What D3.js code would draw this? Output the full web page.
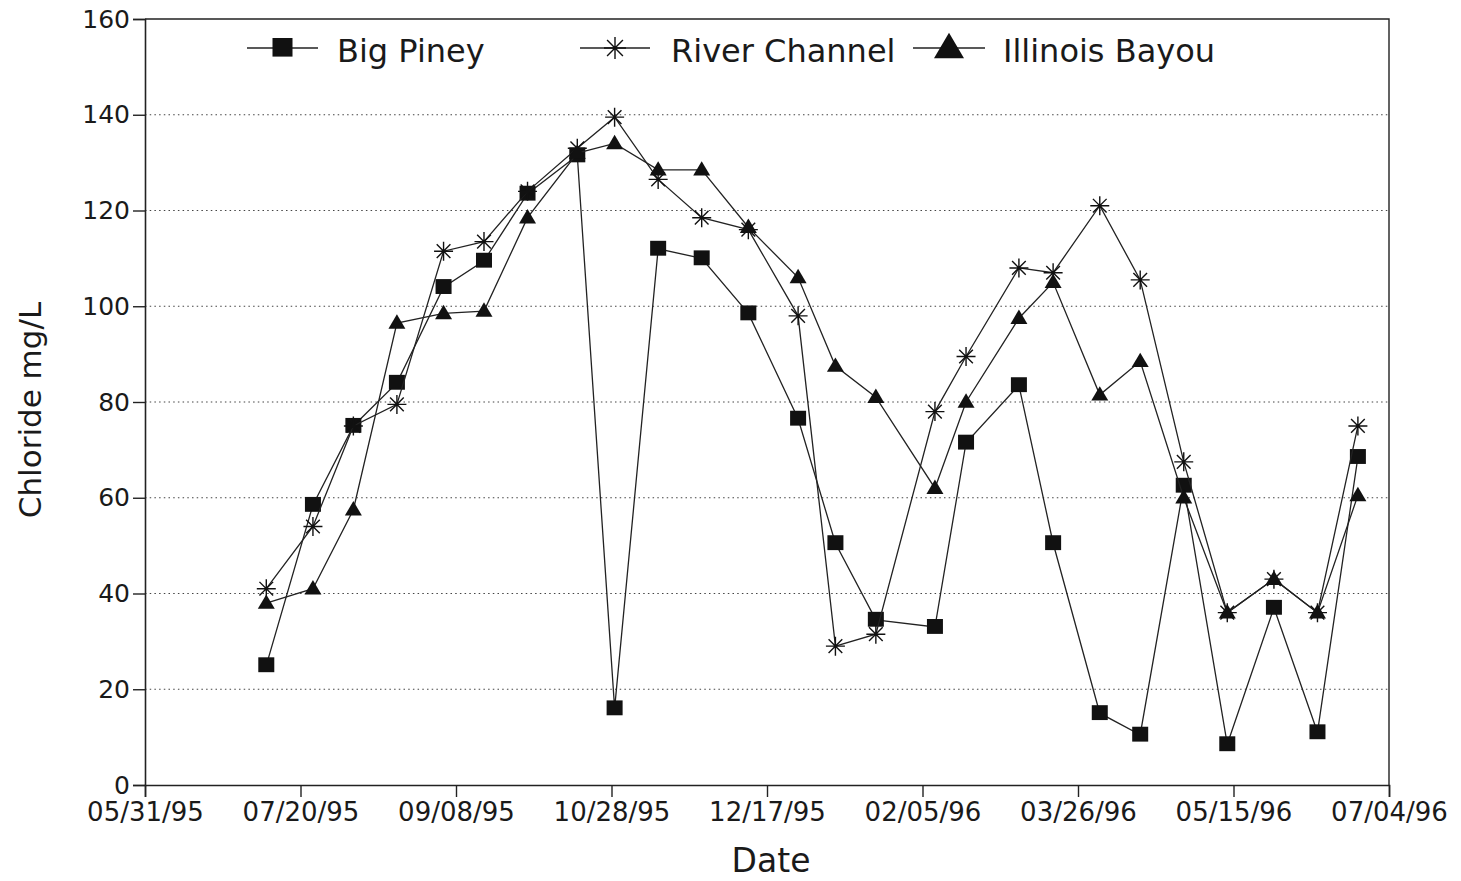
<!DOCTYPE html>
<html>
<head>
<meta charset="utf-8">
<script src="https://cdn.jsdelivr.net/npm/d3@7"></script>
<style>
  html, body { margin: 0; padding: 0; background: #fff; }
  svg { display: block; }
  text { font-family: "DejaVu Sans", sans-serif; fill: #1a1a1a; }
</style>
</head>
<body>
<svg id="chart" width="1461" height="881"></svg>
<script>
// Sampling dates (shared by all three sites)
const dates = [
  "1995-07-09","1995-07-24","1995-08-06","1995-08-20","1995-09-04","1995-09-17",
  "1995-10-01","1995-10-17","1995-10-29","1995-11-12","1995-11-26","1995-12-11",
  "1995-12-27","1996-01-08","1996-01-21","1996-02-09","1996-02-19","1996-03-07",
  "1996-03-18","1996-04-02","1996-04-15","1996-04-29","1996-05-13","1996-05-28",
  "1996-06-11","1996-06-24"
];

// Chloride, mg/L
const bigPiney = [
  25, 58.5, 75, 84, 104, 109.5, 123.5, 131.5, 16, 112, 110, 98.5,
  76.5, 50.5, 34.5, 33, 71.5, 83.5, 50.5, 15, 10.5, 62.5, 8.5, 37, 11, 68.5
];
const riverChannel = [
  41, 54, 75, 79.5, 111.5, 113.5, 124, 133, 139.5, 126.5, 118.5, 116,
  98, 29, 31.5, 78, 89.5, 108, 107, 121, 105.5, 67.5, 36, 43, 36, 75
];
const illinoisBayou = [
  38, 41, 57.5, 96.5, 98.5, 99, 118.5, 132, 134, 128.5, 128.5, 116.5,
  106, 87.5, 81, 62, 80, 97.5, 105, 81.5, 88.5, 60, 36, 43, 36, 60.5
];

const seriesNames = ["Big Piney", "River Channel", "Illinois Bayou"];
const xTickDates = ["1995-05-31","1995-07-20","1995-09-08","1995-10-28","1995-12-17",
                    "1996-02-05","1996-03-26","1996-05-15","1996-07-04"];
const yTicks = [0, 20, 40, 60, 80, 100, 120, 140, 160];

const parse = d3.utcParse("%Y-%m-%d");
const fmt = d3.utcFormat("%m/%d/%y");

const svg = d3.select("#chart");
const plotLeft = 145, plotRight = 1389, plotTop = 19, plotBottom = 785;

const x = d3.scaleUtc()
  .domain([parse(xTickDates[0]), parse(xTickDates[xTickDates.length - 1])])
  .range([plotLeft, plotRight]);
const y = d3.scaleLinear().domain([0, 160]).range([plotBottom, plotTop]);

// dotted horizontal grid
svg.append("g").selectAll("line")
  .data(yTicks.filter(v => v > 0 && v < 160))
  .join("line")
  .attr("x1", plotLeft).attr("x2", plotRight)
  .attr("y1", d => y(d)).attr("y2", d => y(d))
  .attr("stroke", "#444").attr("stroke-width", 1.2)
  .attr("stroke-dasharray", "1.5,3.2");

// frame top & right
svg.append("path")
  .attr("d", `M${plotLeft},${plotTop}H${plotRight}V${plotBottom}`)
  .attr("fill", "none").attr("stroke", "#222").attr("stroke-width", 1.4);

// axes
const xAxis = d3.axisBottom(x)
  .tickValues(xTickDates.map(parse))
  .tickFormat(fmt)
  .tickSize(12).tickPadding(6);
const gx = svg.append("g").attr("transform", `translate(0,${plotBottom})`).call(xAxis);
gx.select(".domain").attr("stroke", "#222").attr("stroke-width", 1.6);
gx.selectAll(".tick line").attr("stroke", "#222").attr("stroke-width", 1.4);
gx.selectAll(".tick text")
  .style("font-family", "'DejaVu Sans', sans-serif")
  .style("font-size", "26px").attr("fill", "#1a1a1a");

const yAxis = d3.axisLeft(y).tickValues(yTicks).tickFormat(d3.format("d"))
  .tickSize(12).tickPadding(3);
const gy = svg.append("g").attr("transform", `translate(${plotLeft},0)`).call(yAxis);
gy.select(".domain").attr("stroke", "#222").attr("stroke-width", 1.6);
gy.selectAll(".tick line").attr("stroke", "#222").attr("stroke-width", 1.4);
gy.selectAll(".tick text")
  .style("font-family", "'DejaVu Sans', sans-serif")
  .style("font-size", "25px").attr("fill", "#1a1a1a");

// axis titles
svg.append("text")
  .attr("x", 771).attr("y", 872).attr("text-anchor", "middle")
  .style("font-size", "33px").text("Date");
svg.append("text")
  .attr("transform", "translate(41,410) rotate(-90)")
  .attr("text-anchor", "middle")
  .style("font-size", "31px").text("Chloride mg/L");

// markers
function drawMarker(g, kind, cx, cy, s) {
  if (kind === "square") {
    g.append("rect").attr("x", cx - s / 2).attr("y", cy - s / 2)
      .attr("width", s).attr("height", s * 0.93).attr("fill", "#111");
  } else if (kind === "triangle") {
    const h = s * 0.85;
    g.append("path")
      .attr("d", `M${cx},${cy - h * 0.6}L${cx + s / 2},${cy + h * 0.4}L${cx - s / 2},${cy + h * 0.4}Z`)
      .attr("fill", "#111");
  } else {
    const r = s / 2, d = r * 0.72;
    g.append("path")
      .attr("d", `M${cx - r},${cy}H${cx + r}M${cx},${cy - r}V${cy + r}` +
                 `M${cx - d},${cy - d}L${cx + d},${cy + d}M${cx - d},${cy + d}L${cx + d},${cy - d}`)
      .attr("stroke", "#111").attr("stroke-width", 1.4).attr("fill", "none");
  }
}

const series = [
  { name: seriesNames[0], values: bigPiney, kind: "square", size: 16 },
  { name: seriesNames[1], values: riverChannel, kind: "star", size: 19 },
  { name: seriesNames[2], values: illinoisBayou, kind: "triangle", size: 17 }
];

const line = d3.line().x(d => x(d.date)).y(d => y(d.value));
const plot = svg.append("g");
series.forEach(s => {
  const pts = dates.map((d, i) => ({ date: parse(d), value: s.values[i] }));
  plot.append("path").datum(pts).attr("d", line)
    .attr("fill", "none").attr("stroke", "#222").attr("stroke-width", 1.3);
  const mg = plot.append("g");
  pts.forEach(p => drawMarker(mg, s.kind, x(p.date), y(p.value), s.size));
});

// legend
const legend = [
  { s: series[0], x0: 247, x1: 318, tx: 337, size: 20 },
  { s: series[1], x0: 580, x1: 650, tx: 671, size: 22 },
  { s: series[2], x0: 913, x1: 985, tx: 1003, size: 30 }
];
const lg = svg.append("g");
legend.forEach(l => {
  const ly = 48;
  lg.append("line").attr("x1", l.x0).attr("x2", l.x1).attr("y1", ly).attr("y2", ly)
    .attr("stroke", "#222").attr("stroke-width", 1.4);
  drawMarker(lg, l.s.kind, (l.x0 + l.x1) / 2, ly, l.size);
  lg.append("text").attr("x", l.tx).attr("y", 62)
    .style("font-size", "32px").text(l.s.name);
});
</script>
</body>
</html>
